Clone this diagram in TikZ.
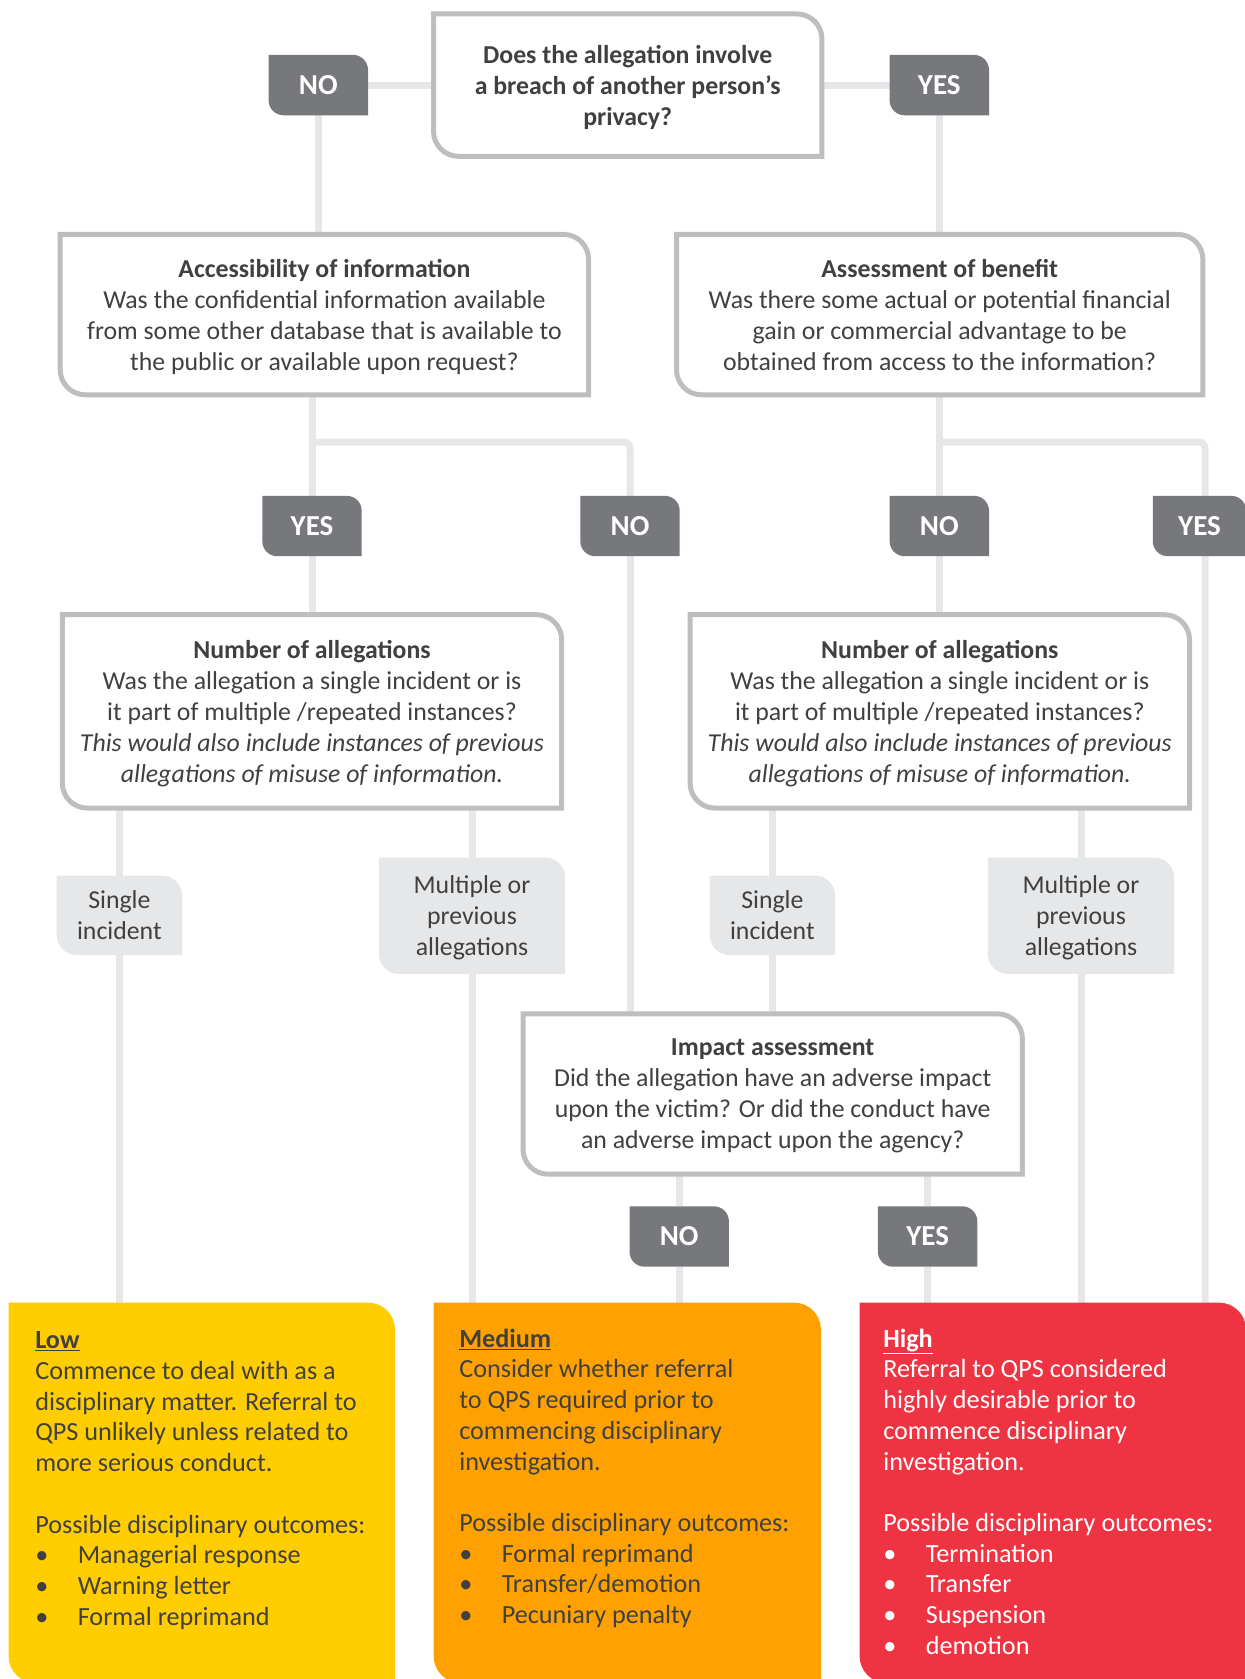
\documentclass[tikz,border=0pt]{standalone}
\usepackage{fontspec}
\setmainfont{Carlito}
\usetikzlibrary{backgrounds}

\definecolor{linegray}{HTML}{E6E7E8}
\definecolor{framegray}{HTML}{BCBEC0}
\definecolor{tabgray}{HTML}{77787B}
\definecolor{textgray}{HTML}{404041}
\definecolor{lowyellow}{HTML}{FFCD00}
\definecolor{medorange}{HTML}{FFA100}
\definecolor{highred}{HTML}{EE3342}

% outline of a node with rounded top right and bottom left corners
\newcommand{\leafbox}[3]{%
  \path[#3] (#1.north west) -- ([xshift=-#2]#1.north east)
    arc[start angle=90,end angle=0,radius=#2] -- (#1.south east)
    -- ([xshift=#2]#1.south west)
    arc[start angle=270,end angle=180,radius=#2] -- cycle;}

\begin{document}
\begin{tikzpicture}[x=1pt, y=-1pt,
    every node/.style={inner sep=0pt, text=textgray},
    question node/.style={align=center, text depth=0pt, font=\fontsize{25.8}{31}\selectfont},
    tab node/.style={minimum width=99pt, minimum height=60pt, text=white,
                     font=\fontsize{29}{32}\selectfont\bfseries},
    pick node/.style={align=center, text depth=0pt, font=\fontsize{25.8}{31}\selectfont},
    level text/.style={align=left, anchor=north west, font=\fontsize{26.2}{30.7}\selectfont},
    connector/.style={draw=linegray, line width=7pt},
    frame/.style={draw=framegray, line width=5pt, fill=white},
    tab/.style={fill=tabgray},
    pick/.style={fill=linegray}]

\useasboundingbox (0,0) rectangle (1245,1679);

% questions
\node[question node, minimum width=388pt, minimum height=142pt] (q0) at (627.7,85.1)
  {\textbf{Does the allegation involve}\\\textbf{a breach of another person’s}\\\textbf{privacy?}};
\node[question node, minimum width=528pt, minimum height=160pt] (a1) at (324.4,314.6)
  {\textbf{Accessibility of information}\\Was the confidential information available\\from some other database that is available to\\the public or available upon request?};
\node[question node, minimum width=526pt, minimum height=160pt] (b1) at (939.7,314.6)
  {\textbf{Assessment of benefit}\\Was there some actual or potential financial\\gain or commercial advantage to be\\obtained from access to the information?};
\node[question node, minimum width=499pt, minimum height=193pt] (n1) at (312,711.4)
  {\textbf{Number of allegations}\\Was the allegation a single incident or is\\it part of multiple /repeated instances?\\\textit{This would also include instances of previous}\\\textit{allegations of misuse of information.}};
\node[question node, minimum width=499pt, minimum height=193pt] (n2) at (939.8,711.4)
  {\textbf{Number of allegations}\\Was the allegation a single incident or is\\it part of multiple /repeated instances?\\\textit{This would also include instances of previous}\\\textit{allegations of misuse of information.}};
\node[question node, minimum width=499pt, minimum height=160pt] (imp) at (772.7,1094)
  {\textbf{Impact assessment}\\Did the allegation have an adverse impact\\upon the victim? Or did the conduct have\\an adverse impact upon the agency?};

% answers
\node[tab node] (l0n) at (318.3,85.1) {NO};
\node[tab node] (l0y) at (939.3,85.1) {YES};
\node[tab node] (l1y) at (312,526) {YES};
\node[tab node] (l1n) at (630,526) {NO};
\node[tab node] (l2n) at (939.3,526) {NO};
\node[tab node, minimum width=93pt] (l2y) at (1199.5,526) {YES};
\node[tab node] (l3n) at (679.2,1236.5) {NO};
\node[tab node] (l3y) at (927.6,1236.5) {YES};

\node[pick node, minimum width=125pt, minimum height=79pt] (s1) at (119.4,915.3) {Single\\incident};
\node[pick node, minimum width=186pt, minimum height=116pt] (m1) at (472,915.7) {Multiple or\\previous\\allegations};
\node[pick node, minimum width=125pt, minimum height=79pt] (s2) at (772.4,915.3) {Single\\incident};
\node[pick node, minimum width=186pt, minimum height=116pt] (m2) at (1081,915.7) {Multiple or\\previous\\allegations};

% outcomes
\node[minimum width=386pt, minimum height=380pt] (low) at (201.8,1492.8) {};
\node[minimum width=387pt, minimum height=380pt] (med) at (627.3,1492.8) {};
\node[minimum width=386pt, minimum height=380pt] (hi) at (1052.8,1492.8) {};

\node[level text] (lowtext) at ([shift={(26.5pt,-29pt)}]low.north west)
  {\underline{\textbf{Low}}\\
   Commence to deal with as a\\
   disciplinary matter. Referral to\\
   QPS unlikely unless related to\\
   more serious conduct.\\[30.7pt]
   Possible disciplinary outcomes:\\
   \makebox[42.5pt][l]{•}Managerial response\\
   \makebox[42.5pt][l]{•}Warning letter\\
   \makebox[42.5pt][l]{•}Formal reprimand};
\node[level text] (medtext) at ([shift={(25.5pt,-26pt)}]med.north west)
  {\underline{\textbf{Medium}}\\
   Consider whether referral\\
   to QPS required prior to\\
   commencing disciplinary\\
   investigation.\\[30.7pt]
   Possible disciplinary outcomes:\\
   \makebox[42.5pt][l]{•}Formal reprimand\\
   \makebox[42.5pt][l]{•}Transfer/demotion\\
   \makebox[42.5pt][l]{•}Pecuniary penalty};
\node[level text, text=white] (hitext) at ([shift={(23.5pt,-26pt)}]hi.north west)
  {\underline{\textbf{High}}\\
   Referral to QPS considered\\
   highly desirable prior to\\
   commence disciplinary\\
   investigation.\\[30.7pt]
   Possible disciplinary outcomes:\\
   \makebox[42.5pt][l]{•}Termination\\
   \makebox[42.5pt][l]{•}Transfer\\
   \makebox[42.5pt][l]{•}Suspension\\
   \makebox[42.5pt][l]{•}demotion};

\coordinate (j1) at (630,442);
\coordinate (j2) at (1205,442);

\begin{scope}[on background layer]
  % connectors
  \path[connector] (l0n) -- (q0) -- (l0y);
  \path[connector] (l0n) -- (l0n |- a1.north);
  \path[connector] (l0y) -- (l0y |- b1.north);
  \path[connector] (l1y |- a1.south) -- (l1y) -- (l1y |- n1.north);
  \path[connector, rounded corners=6pt] (l1y |- j1) -- (j1) -- (l1n);
  \path[connector] (l1n) -- (l1n |- imp.north);
  \path[connector] (l2n |- b1.south) -- (l2n) -- (l2n |- n2.north);
  \path[connector, rounded corners=6pt] (l2n |- j2) -- (j2) -- (j2 |- hi.north);
  \path[connector] (s1 |- n1.south) -- (s1) -- (s1 |- low.north);
  \path[connector] (m1 |- n1.south) -- (m1) -- (m1 |- med.north);
  \path[connector] (s2 |- n2.south) -- (s2) -- (s2 |- imp.north);
  \path[connector] (m2 |- n2.south) -- (m2) -- (m2 |- hi.north);
  \path[connector] (l3n |- imp.south) -- (l3n) -- (l3n |- med.north);
  \path[connector] (l3y |- imp.south) -- (l3y) -- (l3y |- hi.north);
  % shapes
  \foreach \n in {q0,a1,b1,n1,n2,imp} {\leafbox{\n}{25pt}{frame}}
  \foreach \n in {l0n,l0y,l1y,l1n,l2n,l2y,l3n,l3y} {\leafbox{\n}{15pt}{tab}}
  \foreach \n in {s1,m1,s2,m2} {\leafbox{\n}{20pt}{pick}}
  \leafbox{low}{27pt}{fill=lowyellow}
  \leafbox{med}{27pt}{fill=medorange}
  \leafbox{hi}{27pt}{fill=highred}
\end{scope}

\end{tikzpicture}
\end{document}
